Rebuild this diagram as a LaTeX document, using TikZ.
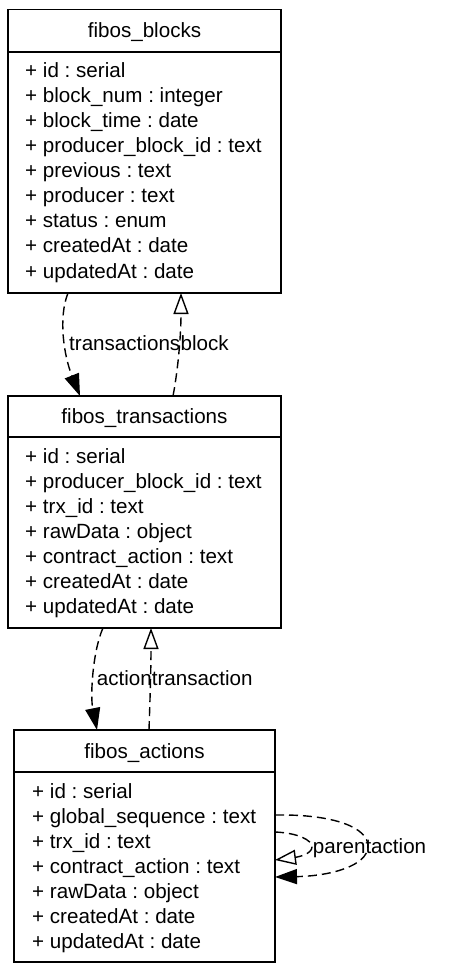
\documentclass[tikz,border=0pt]{standalone}
\usepackage{fontspec}
\setmainfont{Liberation Sans}
\usetikzlibrary{arrows.meta}
\frenchspacing
\begin{document}
\begin{tikzpicture}[x=1pt,y=-1pt,
  font=\fontsize{20.6pt}{25pt}\selectfont,
  box/.style={draw, line width=1.4pt, rectangle, inner sep=0pt, outer sep=0pt, anchor=north west},
  divider/.style={line width=1.4pt},
  title/.style={anchor=base, inner sep=0pt},
  attr/.style={anchor=base west, inner sep=0pt},
  lbl/.style={anchor=base west, inner sep=0pt},
  rel/.style={draw, line width=1.4pt, dash pattern=on 9pt off 5pt},
  fillhead/.style={-{Triangle[length=22pt,width=15pt]}},
  openhead/.style={-{Triangle[open,length=21pt,width=15pt,fill=white]}}
]
\useasboundingbox (0,0) rectangle (470,973);

% fibos_blocks
\node[box, minimum width=273pt, minimum height=283.5pt] (blocks) at (8,9.5) {};
\draw[divider] (blocks.west |- 0,52) -- (blocks.east |- 0,52);
\node[title] (blocksT) at (144.5,37.5) {fibos\_blocks};
\foreach \t [count=\i] in {+ id : serial, + block\_num : integer, + block\_time : date, + producer\_block\_id : text, + previous : text, + producer : text, + status : enum, + createdAt : date, + updatedAt : date}
  \node[attr] (ba\i) at (25,53+25*\i) {\t};

% fibos_transactions
\node[box, minimum width=273pt, minimum height=232pt] (trans) at (8,396) {};
\draw[divider] (trans.west |- 0,437) -- (trans.east |- 0,437);
\node[title] (transT) at (144.5,423) {fibos\_transactions};
\foreach \t [count=\i] in {+ id : serial, + producer\_block\_id : text, + trx\_id : text, + rawData : object, + contract\_action : text, + createdAt : date, + updatedAt : date}
  \node[attr] (ta\i) at (25,438+25*\i) {\t};

% fibos_actions
\node[box, minimum width=261pt, minimum height=232pt] (actions) at (14,730) {};
\draw[divider] (actions.west |- 0,772) -- (actions.east |- 0,772);
\node[title] (actionsT) at (144.5,758) {fibos\_actions};
\foreach \t [count=\i] in {+ id : serial, + global\_sequence : text, + trx\_id : text, + contract\_action : text, + rawData : object, + createdAt : date, + updatedAt : date}
  \node[attr] (aa\i) at (32,773+25*\i) {\t};

% blocks <-> transactions
\draw[rel, fillhead] (68,0 |- blocks.south) .. controls (58,318) and (64,356) .. (80,0 |- trans.north);
\draw[rel, openhead] (173,0 |- trans.north) .. controls (178,370) and (181,335) .. (181,0 |- blocks.south);
\node[lbl] (l1) at (69,350.5) {transactions};
\node[lbl] (l2) at (180.5,350.5) {block};

% transactions <-> actions
\draw[rel, fillhead] (103,0 |- trans.south) .. controls (93,650) and (90,695) .. (97,0 |- actions.north);
\draw[rel, openhead] (149,0 |- actions.north) .. controls (150,700) and (151,670) .. (151,0 |- trans.south);
\node[lbl] (l3) at (96.7,685.5) {action};
\node[lbl] (l4) at (151.7,685.5) {transaction};

% self loops on actions
\draw[rel, fillhead] (actions.east |- 0,815) .. controls (335,814) and (368,828) .. (368,846) .. controls (368,866) and (330,876) .. (actions.east |- 0,877);
\draw[rel, openhead] (actions.east |- 0,832) .. controls (298,833) and (312,840) .. (312,847) .. controls (312,854) and (298,857) .. (actions.east |- 0,860);
\node[lbl] (l5) at (312.7,853.5) {parent};
\node[lbl] (l6) at (371,853.5) {action};
\end{tikzpicture}
\end{document}
